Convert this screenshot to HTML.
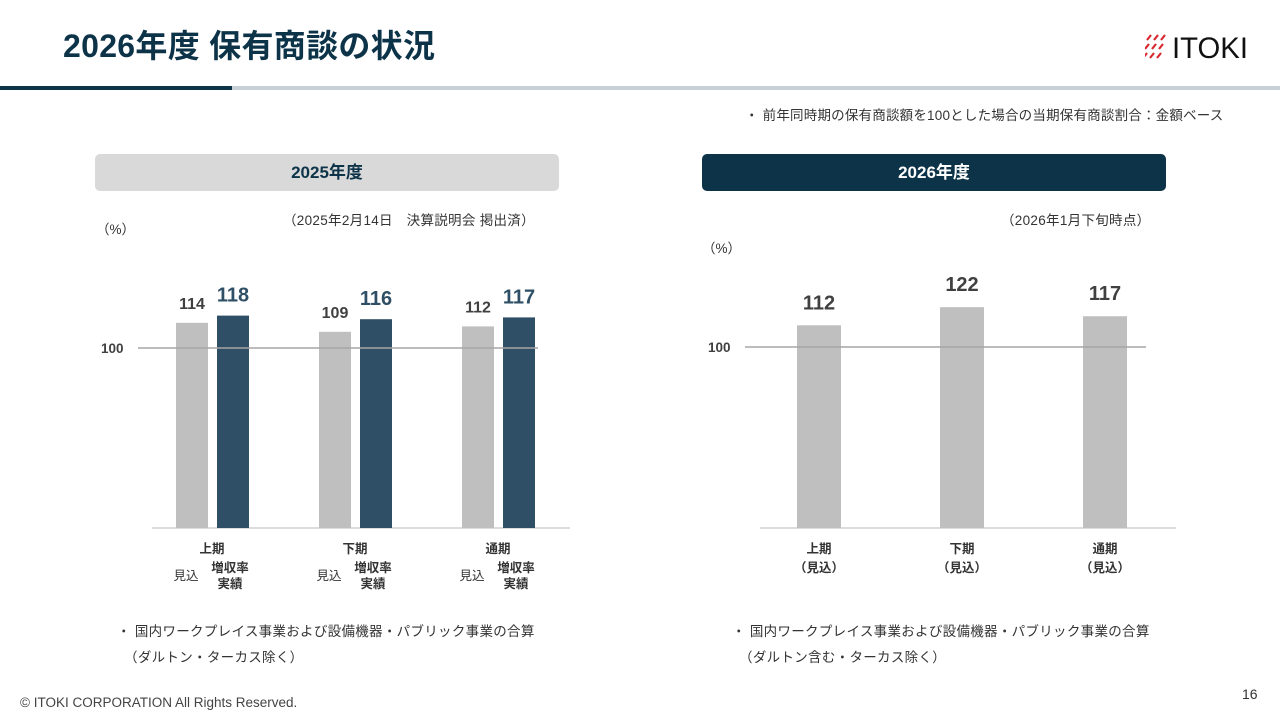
<!DOCTYPE html>
<html><head><meta charset="utf-8">
<style>
body{margin:0;width:1280px;height:720px;background:#fff;position:relative;overflow:hidden;font-family:"Liberation Sans","Noto Sans CJK JP",sans-serif;color:#333}
.abs{position:absolute}
</style></head><body>
<div class="abs" style="left:63px;top:21px;font-size:32px;font-weight:bold;color:#0d3349;letter-spacing:0.3px">2026年度 保有商談の状況</div>
<div class="abs" style="left:1145px;top:28px;width:120px;height:34px">
<svg width="120" height="34"><g stroke="#d8282f" stroke-width="2.2">
<line x1="2" y1="12" x2="6" y2="7"/><line x1="9" y1="12" x2="13" y2="7"/><line x1="16" y1="12" x2="20" y2="7"/>
<line x1="0" y1="21" x2="4" y2="16"/><line x1="7" y1="21" x2="11" y2="16"/><line x1="14" y1="21" x2="18" y2="16"/>
<line x1="-2" y1="30" x2="2" y2="25"/><line x1="5" y1="30" x2="9" y2="25"/><line x1="12" y1="30" x2="16" y2="25"/></g>
<text x="27" y="30" font-family="Liberation Sans" font-size="30" fill="#111" textLength="76" lengthAdjust="spacingAndGlyphs">ITOKI</text></svg></div>
<div class="abs" style="left:0;top:86px;width:1280px;height:4px;background:#c8d0d8"></div>
<div class="abs" style="left:0;top:86px;width:232px;height:4px;background:#0d3349"></div>
<div class="abs" style="left:745px;top:104px;font-size:13.5px;letter-spacing:0.2px">・ 前年同時期の保有商談額を100とした場合の当期保有商談割合：金額ベース</div>

<div class="abs" style="left:95px;top:154px;width:464px;height:37px;background:#d9d9d9;border-radius:5px;text-align:center;line-height:37px;font-size:17px;font-weight:bold;color:#0d3349">2025年度</div>
<div class="abs" style="left:702px;top:154px;width:464px;height:37px;background:#0d3349;border-radius:5px;text-align:center;line-height:37px;font-size:17px;font-weight:bold;color:#fff">2026年度</div>

<div class="abs" style="left:283px;top:209px;font-size:13.5px;letter-spacing:0.3px">（2025年2月14日　決算説明会 掲出済）</div>
<div class="abs" style="left:1001px;top:209px;font-size:13.5px;letter-spacing:0.3px">（2026年1月下旬時点）</div>
<div class="abs" style="left:96px;top:218px;font-size:13.5px">（%）</div>
<div class="abs" style="left:702px;top:237px;font-size:13.5px">（%）</div>

<svg class="abs" style="left:0;top:0" width="1280" height="720" id="charts"></svg>

<div class="abs" style="left:117px;top:619px;font-size:13.5px;line-height:26px;letter-spacing:0.3px">・ 国内ワークプレイス事業および設備機器・パブリック事業の合算<br>　（ダルトン・ターカス除く）</div>
<div class="abs" style="left:732px;top:619px;font-size:13.5px;line-height:26px;letter-spacing:0.3px">・ 国内ワークプレイス事業および設備機器・パブリック事業の合算<br>　（ダルトン含む・ターカス除く）</div>
<div class="abs" style="left:20px;top:695px;font-size:13.5px;color:#444">© ITOKI CORPORATION All Rights Reserved.</div>
<div class="abs" style="left:1242px;top:686px;font-size:14px">16</div>

<script>
const leftCats=["上期","下期","通期"];
const leftForecast=[114,109,112];
const leftActual=[118,116,117];
const rightCats=["上期","下期","通期"];
const rightValues=[112,122,117];
const refValue=100;

const NS="http://www.w3.org/2000/svg";
const svg=document.getElementById('charts');
function mk(tag,attrs,txt){const e=document.createElementNS(NS,tag);for(const k in attrs)e.setAttribute(k,attrs[k]);if(txt!==undefined)e.textContent=txt;svg.appendChild(e);return e;}
const F='Liberation Sans, Noto Sans CJK JP, sans-serif';
function yL(v){return 528-v*1.8;}
function yR(v){return 528-v*1.81;}

let e=mk('line',{x1:152,x2:570,y1:528,y2:528,stroke:'#d0d0d0','stroke-width':1.5});

leftCats.forEach((c,i)=>{
  const cx=192+i*143;
  let b=mk('rect',{x:cx-16,y:yL(leftForecast[i]),width:32,height:528-yL(leftForecast[i]),fill:'#bfbfbf'});
  
  let b2=mk('rect',{x:cx+25,y:yL(leftActual[i]),width:32,height:528-yL(leftActual[i]),fill:'#2e4f66'});
  
  let t=mk('text',{x:cx,y:yL(leftForecast[i])-14,'text-anchor':'middle','font-size':16,'font-weight':'bold',fill:'#404040','font-family':F},leftForecast[i]);
  
  let t2=mk('text',{x:cx+41,y:yL(leftActual[i])-14,'text-anchor':'middle','font-size':20,'font-weight':'bold',fill:'#2e4f66','font-family':F},leftActual[i]);
  
  let c1=mk('text',{x:cx+20,y:553,'text-anchor':'middle','font-size':12.5,'font-weight':'bold',fill:'#333','font-family':F},c);
  
  let c2=mk('text',{x:cx-6,y:580,'text-anchor':'middle','font-size':12.5,fill:'#333','font-family':F},'見込');
  
  let c3=mk('text',{x:cx+38,y:572,'text-anchor':'middle','font-size':12.5,'font-weight':'bold',fill:'#333','font-family':F},'増収率');
  
  let c4=mk('text',{x:cx+38,y:588,'text-anchor':'middle','font-size':12.5,'font-weight':'bold',fill:'#333','font-family':F},'実績');
  
});
e=mk('line',{x1:138,x2:538,y1:yL(refValue),y2:yL(refValue),stroke:'#a6a6a6','stroke-width':1.5});

e=mk('text',{x:101,y:yL(refValue)+5,'font-size':13.5,'font-weight':'bold',fill:'#404040','font-family':F},refValue);


e=mk('line',{x1:760,x2:1176,y1:528,y2:528,stroke:'#d0d0d0','stroke-width':1.5});

rightCats.forEach((c,i)=>{
  const cx=819+i*143;
  let b=mk('rect',{x:cx-22,y:yR(rightValues[i]),width:44,height:528-yR(rightValues[i]),fill:'#bfbfbf'});
  
  let t=mk('text',{x:cx,y:yR(rightValues[i])-16,'text-anchor':'middle','font-size':20,'font-weight':'bold',fill:'#404040','font-family':F},rightValues[i]);
  
  let c1=mk('text',{x:cx,y:553,'text-anchor':'middle','font-size':12.5,'font-weight':'bold',fill:'#333','font-family':F},c);
  
  let c2=mk('text',{x:cx,y:572,'text-anchor':'middle','font-size':12.5,'font-weight':'bold',fill:'#333','font-family':F},'（見込）');
  
});
e=mk('line',{x1:745,x2:1146,y1:yR(refValue),y2:yR(refValue),stroke:'#a6a6a6','stroke-width':1.5});

e=mk('text',{x:708,y:yR(refValue)+5,'font-size':13.5,'font-weight':'bold',fill:'#404040','font-family':F},refValue);

</script>
</body></html>
